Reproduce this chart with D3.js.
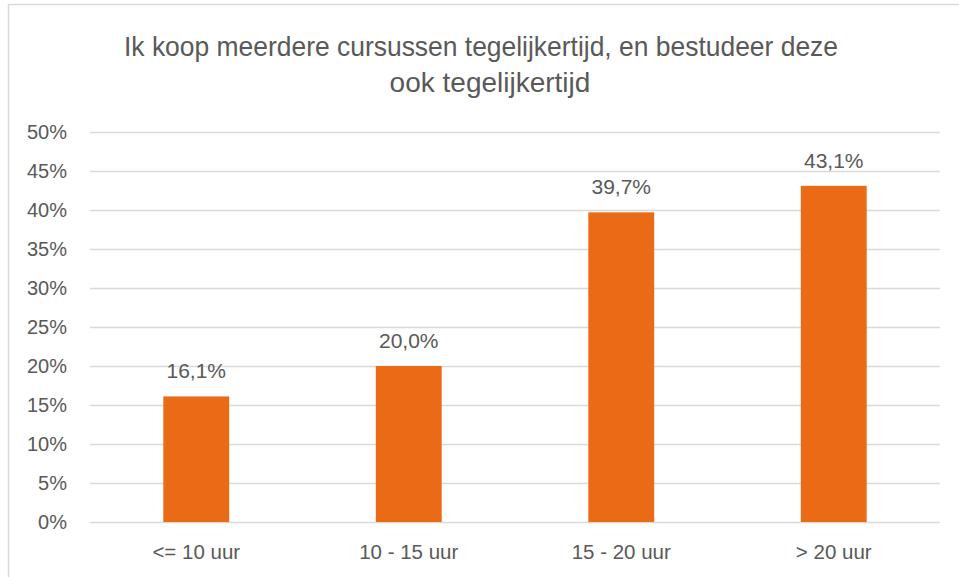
<!DOCTYPE html>
<html>
<head>
<meta charset="utf-8">
<script src="https://cdn.jsdelivr.net/npm/d3@7"></script>
<style>
  body { margin: 0; background: #fff; }
  svg { display: block; font-family: "Liberation Sans", Arial, sans-serif; }
</style>
</head>
<body>
<div id="chart"></div>
<script>
// data
var categories = ["<= 10 uur", "10 - 15 uur", "15 - 20 uur", "> 20 uur"];
var values = [16.1, 20.0, 39.7, 43.1];
var yTicks = [0, 5, 10, 15, 20, 25, 30, 35, 40, 45, 50];
var titleLines = ["Ik koop meerdere cursussen tegelijkertijd, en bestudeer deze", "ook tegelijkertijd"];

var width = 959, height = 577;
var margin = {top: 132, right: 19, bottom: 55, left: 90};

var svg = d3.select("#chart").append("svg")
	.attr("width", width)
	.attr("height", height);

// chart frame (right/bottom edges fall outside the picture)
svg.append("rect")
	.attr("x", 8.5)
	.attr("y", 4.5)
	.attr("width", width + 20)
	.attr("height", height + 20)
	.attr("fill", "none")
	.attr("stroke", "#d9d9d9")
	.attr("stroke-width", 1.5);

var x = d3.scaleBand()
	.domain(categories)
	.range([margin.left, width - margin.right])
	.paddingInner(0.69)
	.paddingOuter(0.345);

var y = d3.scaleLinear()
	.domain([0, 50])
	.range([height - margin.bottom, margin.top]);

// gridlines
svg.append("g")
	.selectAll("line")
	.data(yTicks)
	.enter()
	.append("line")
	.attr("x1", margin.left)
	.attr("x2", width - margin.right)
	.attr("y1", function(d){ return Math.round(y(d)) + 0.5; })
	.attr("y2", function(d){ return Math.round(y(d)) + 0.5; })
	.attr("stroke", "#d9d9d9")
	.attr("stroke-width", 1.5);

// y axis labels
var yAxis = d3.axisLeft(y)
	.tickValues(yTicks)
	.tickSize(0)
	.tickPadding(23)
	.tickFormat(function(d){ return d + "%"; });

var gy = svg.append("g")
	.attr("transform", "translate(" + margin.left + ",0)")
	.call(yAxis);
gy.select(".domain").remove();
gy.selectAll("text")
	.attr("fill", "#595959")
	.style("font-size", "20px")
	.style("font-family", "Liberation Sans, Arial, sans-serif");

// x axis labels
var xAxis = d3.axisBottom(x).tickSize(0).tickPadding(22);
var gx = svg.append("g")
	.attr("transform", "translate(0," + (height - margin.bottom) + ")")
	.call(xAxis);
gx.select(".domain").remove();
gx.selectAll("text")
	.attr("fill", "#595959")
	.style("font-size", "20.5px")
	.style("font-family", "Liberation Sans, Arial, sans-serif");

// bars
svg.append("g")
	.selectAll("rect")
	.data(values)
	.enter()
	.append("rect")
	.attr("x", function(d, i){ return x(categories[i]); })
	.attr("y", function(d){ return y(d); })
	.attr("width", x.bandwidth())
	.attr("height", function(d){ return y(0) - y(d); })
	.attr("fill", "#ea6a16");

// data labels
svg.append("g")
	.selectAll("text")
	.data(values)
	.enter()
	.append("text")
	.attr("x", function(d, i){ return x(categories[i]) + x.bandwidth() / 2; })
	.attr("y", function(d){ return y(d) - 18; })
	.attr("text-anchor", "middle")
	.attr("fill", "#595959")
	.style("font-size", "21px")
	.text(function(d){ return d.toFixed(1).replace(".", ",") + "%"; });

// title (first line squeezed a bit, the original font is narrower)
var title = svg.append("g")
	.selectAll("text")
	.data(titleLines)
	.enter()
	.append("text")
	.attr("x", function(d, i){ return i === 0 ? 481 : 490; })
	.attr("y", function(d, i){ return 56 + i * 35.5; })
	.attr("text-anchor", "middle")
	.attr("fill", "#595959")
	.style("font-size", "28px")
	.text(function(d){ return d; });

title.filter(function(d, i){ return i === 0; })
	.attr("textLength", 714)
	.attr("lengthAdjust", "spacingAndGlyphs");
</script>
</body>
</html>
